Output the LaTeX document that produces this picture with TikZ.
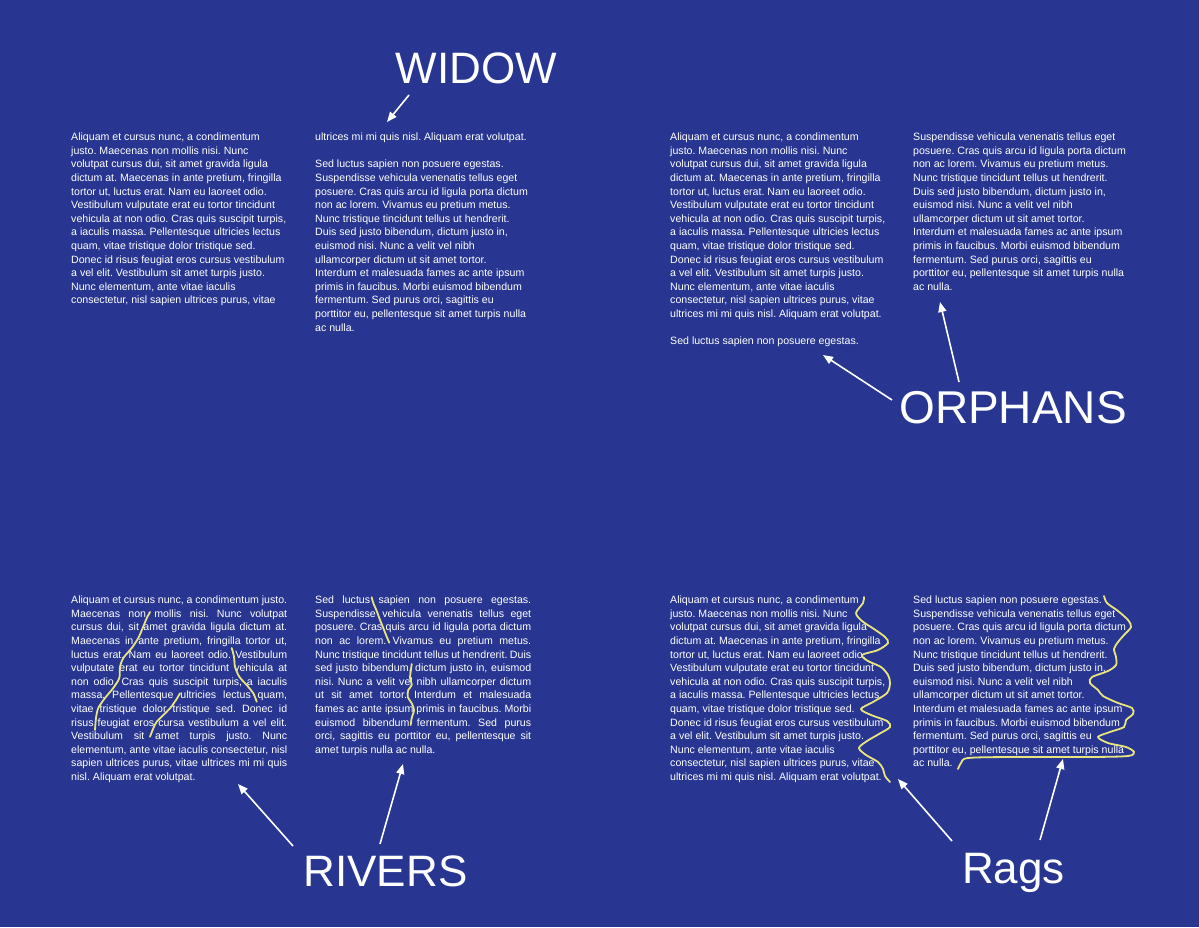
\documentclass[tikz,border=0pt]{standalone}
\usepackage{fontspec}
\setmainfont{Liberation Sans}
\usetikzlibrary{arrows.meta}
\definecolor{bgblue}{RGB}{40,54,146}
\definecolor{rivery}{RGB}{234,228,126}
\newcommand{\jl}[1]{\makebox[216pt][s]{#1}}
\frenchspacing

\begin{document}
\begin{tikzpicture}[x=1pt,y=-1pt,
    txt/.style={anchor=north west,inner sep=0pt,align=left,text=white,font=\fontsize{10.6}{13.6}\selectfont\frenchspacing},
    head/.style={anchor=base,inner sep=0pt,text=white,font=\fontsize{44}{48}\selectfont},
    arr/.style={white,line width=1.6pt,-{Triangle[length=10pt,width=8pt]}},
    wiggle/.style={rivery,line width=1.8pt,line cap=round}]
        \useasboundingbox (0,0) rectangle (1199,927);
        \fill[bgblue] (0,0) rectangle (1199,927);

        \node[txt] (tl_1) at (71,131) {\strut Aliquam et cursus nunc, a condimentum\\
        justo. Maecenas non mollis nisi. Nunc\\
        volutpat cursus dui, sit amet gravida ligula\\
        dictum at. Maecenas in ante pretium, fringilla\\
        tortor ut, luctus erat. Nam eu laoreet odio.\\
        Vestibulum vulputate erat eu tortor tincidunt\\
        vehicula at non odio. Cras quis suscipit turpis,\\
        a iaculis massa. Pellentesque ultricies lectus\\
        quam, vitae tristique dolor tristique sed.\\
        Donec id risus feugiat eros cursus vestibulum\\
        a vel elit. Vestibulum sit amet turpis justo.\\
        Nunc elementum, ante vitae iaculis\\
        consectetur, nisl sapien ultrices purus, vitae};
        \node[txt] (tl_2) at (315,131) {\strut ultrices mi mi quis nisl. Aliquam erat volutpat.\\[13.6pt]
        Sed luctus sapien non posuere egestas.\\
        Suspendisse vehicula venenatis tellus eget\\
        posuere. Cras quis arcu id ligula porta dictum\\
        non ac lorem. Vivamus eu pretium metus.\\
        Nunc tristique tincidunt tellus ut hendrerit.\\
        Duis sed justo bibendum, dictum justo in,\\
        euismod nisi. Nunc a velit vel nibh\\
        ullamcorper dictum ut sit amet tortor.\\
        Interdum et malesuada fames ac ante ipsum\\
        primis in faucibus. Morbi euismod bibendum\\
        fermentum. Sed purus orci, sagittis eu\\
        porttitor eu, pellentesque sit amet turpis nulla\\
        ac nulla.};

        \node[txt] (tr_1) at (670,131) {\strut Aliquam et cursus nunc, a condimentum\\
        justo. Maecenas non mollis nisi. Nunc\\
        volutpat cursus dui, sit amet gravida ligula\\
        dictum at. Maecenas in ante pretium, fringilla\\
        tortor ut, luctus erat. Nam eu laoreet odio.\\
        Vestibulum vulputate erat eu tortor tincidunt\\
        vehicula at non odio. Cras quis suscipit turpis,\\
        a iaculis massa. Pellentesque ultricies lectus\\
        quam, vitae tristique dolor tristique sed.\\
        Donec id risus feugiat eros cursus vestibulum\\
        a vel elit. Vestibulum sit amet turpis justo.\\
        Nunc elementum, ante vitae iaculis\\
        consectetur, nisl sapien ultrices purus, vitae\\
        ultrices mi mi quis nisl. Aliquam erat volutpat.\\[13.6pt]
        Sed luctus sapien non posuere egestas.};
        \node[txt] (tr_2) at (913,131) {\strut Suspendisse vehicula venenatis tellus eget\\
        posuere. Cras quis arcu id ligula porta dictum\\
        non ac lorem. Vivamus eu pretium metus.\\
        Nunc tristique tincidunt tellus ut hendrerit.\\
        Duis sed justo bibendum, dictum justo in,\\
        euismod nisi. Nunc a velit vel nibh\\
        ullamcorper dictum ut sit amet tortor.\\
        Interdum et malesuada fames ac ante ipsum\\
        primis in faucibus. Morbi euismod bibendum\\
        fermentum. Sed purus orci, sagittis eu\\
        porttitor eu, pellentesque sit amet turpis nulla\\
        ac nulla.};

        \node[txt] (bl_1) at (71,594) {\strut\jl{Aliquam et cursus nunc, a condimentum justo.}\\
        \jl{Maecenas non mollis nisi. Nunc volutpat}\\
        \jl{cursus dui, sit amet gravida ligula dictum at.}\\
        \jl{Maecenas in ante pretium, fringilla tortor ut,}\\
        \jl{luctus erat. Nam eu laoreet odio. Vestibulum}\\
        \jl{vulputate erat eu tortor tincidunt vehicula at}\\
        \jl{non odio. Cras quis suscipit turpis, a iaculis}\\
        \jl{massa. Pellentesque ultricies lectus quam,}\\
        \jl{vitae tristique dolor tristique sed. Donec id}\\
        \jl{risus feugiat eros cursa vestibulum a vel elit.}\\
        \jl{Vestibulum sit amet turpis justo. Nunc}\\
        \jl{elementum, ante vitae iaculis consectetur, nisl}\\
        \jl{sapien ultrices purus, vitae ultrices mi mi quis}\\
        nisl. Aliquam erat volutpat.};
        \node[txt] (bl_2) at (315,594) {\strut\jl{Sed luctus sapien non posuere egestas.}\\
        \jl{Suspendisse vehicula venenatis tellus eget}\\
        \jl{posuere. Cras quis arcu id ligula porta dictum}\\
        \jl{non ac lorem. Vivamus eu pretium metus.}\\
        \jl{Nunc tristique tincidunt tellus ut hendrerit. Duis}\\
        \jl{sed justo bibendum, dictum justo in, euismod}\\
        \jl{nisi. Nunc a velit vel nibh ullamcorper dictum}\\
        \jl{ut sit amet tortor. Interdum et malesuada}\\
        \jl{fames ac ante ipsum primis in faucibus. Morbi}\\
        \jl{euismod bibendum fermentum. Sed purus}\\
        \jl{orci, sagittis eu porttitor eu, pellentesque sit}\\
        amet turpis nulla ac nulla.};

        \node[txt] (br_1) at (670,594) {\strut Aliquam et cursus nunc, a condimentum\\
        justo. Maecenas non mollis nisi. Nunc\\
        volutpat cursus dui, sit amet gravida ligula\\
        dictum at. Maecenas in ante pretium, fringilla\\
        tortor ut, luctus erat. Nam eu laoreet odio.\\
        Vestibulum vulputate erat eu tortor tincidunt\\
        vehicula at non odio. Cras quis suscipit turpis,\\
        a iaculis massa. Pellentesque ultricies lectus\\
        quam, vitae tristique dolor tristique sed.\\
        Donec id risus feugiat eros cursus vestibulum\\
        a vel elit. Vestibulum sit amet turpis justo.\\
        Nunc elementum, ante vitae iaculis\\
        consectetur, nisl sapien ultrices purus, vitae\\
        ultrices mi mi quis nisl. Aliquam erat volutpat.};
        \node[txt] (br_2) at (913,594) {\strut Sed luctus sapien non posuere egestas.\\
        Suspendisse vehicula venenatis tellus eget\\
        posuere. Cras quis arcu id ligula porta dictum\\
        non ac lorem. Vivamus eu pretium metus.\\
        Nunc tristique tincidunt tellus ut hendrerit.\\
        Duis sed justo bibendum, dictum justo in,\\
        euismod nisi. Nunc a velit vel nibh\\
        ullamcorper dictum ut sit amet tortor.\\
        Interdum et malesuada fames ac ante ipsum\\
        primis in faucibus. Morbi euismod bibendum\\
        fermentum. Sed purus orci, sagittis eu\\
        porttitor eu, pellentesque sit amet turpis nulla\\
        ac nulla.};

        \node[head] (widow) at (476.5,83.3) {WIDOW};
        \node[head,font=\fontsize{46}{50}\selectfont] (orphans) at (1013,423.3) {ORPHANS};
        \node[head] (rivers) at (385.5,886.7) {RIVERS};
        \node[head] (rags) at (1013.5,883.3) {Rags};

        \coordinate (w_from) at (409,95);      \coordinate (w_to) at (387,122);
        \coordinate (o_from1) at (892,400);    \coordinate (o_to1) at (823,355);
        \coordinate (o_from2) at (959,382);    \coordinate (o_to2) at (940,302);
        \coordinate (r_from1) at (293,846);    \coordinate (r_to1) at (238,784);
        \coordinate (r_from2) at (380,844);    \coordinate (r_to2) at (403,764);
        \coordinate (g_from1) at (952,841);    \coordinate (g_to1) at (898,779);
        \coordinate (g_from2) at (1040,840);   \coordinate (g_to2) at (1063,759);

        \draw[arr] (w_from) -- (w_to);
        \draw[arr] (o_from1) -- (o_to1);
        \draw[arr] (o_from2) -- (o_to2);
        \draw[arr] (r_from1) -- (r_to1);
        \draw[arr] (r_from2) -- (r_to2);
        \draw[arr] (g_from1) -- (g_to1);
        \draw[arr] (g_from2) -- (g_to2);

        \draw[wiggle] plot[smooth] coordinates {(150,612) (146.7,618.3) (142.7,628) (138.3,638) (131.7,648) (123.3,658) (120,666.7) (119.3,678) (113.3,688) (105,698) (98.3,708) (96,718) (95,730)};
        \draw[wiggle] plot[smooth] coordinates {(231.7,648) (234,656.7) (235,666.7) (239.3,676.7) (246.7,685) (253.3,693.3) (256.7,701.7)};
        \draw[wiggle] plot[smooth] coordinates {(180,693.3) (176,700) (170,708.3) (161.7,716.7) (156.7,721.7) (153.3,728.3) (150,736.7)};
        \draw[wiggle] plot[smooth] coordinates {(371.7,597.3) (373.3,603) (377,611.7) (380,620) (383.3,628) (386.7,636.7) (389.3,642.7)};
        \draw[wiggle] plot[smooth] coordinates {(411.7,664) (410.7,671.7) (410,678) (411.7,685) (408.3,690) (407.7,696.7) (411.7,703.3) (414,710) (411.7,718) (410.7,725)};

        \draw[wiggle] plot[smooth] coordinates {(864,597) (863,603) (856,613) (862,621) (874,629) (885,637) (888,643) (878,650) (862,655) (868,661) (881,667) (888,675) (890,683) (887,693) (873,702) (861,709) (871,715) (887,721) (890,727) (879,734) (867,741) (859,748) (866,755) (878,762) (883,769) (885,776) (890,782)};
        \draw[wiggle] plot[smooth] coordinates {(1104,596) (1107,603) (1118,611) (1128,620) (1131,627) (1124,635) (1118,642) (1114,649) (1116,657) (1116,665) (1108,671) (1092,677) (1090,683) (1098,690) (1103,696) (1118,703) (1132,708) (1133,714) (1126,720) (1124,727) (1110,732) (1098,737) (1108,743) (1126,747) (1134,752) (1128,756) (1090,757) (1010,757) (968,758) (961,763) (958,769)};

    \end{tikzpicture}
\end{document}
